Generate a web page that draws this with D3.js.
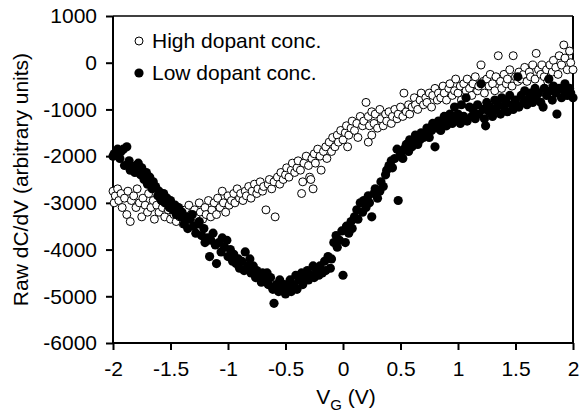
<!DOCTYPE html>
<html>
<head>
<meta charset="utf-8">
<script src="https://cdn.jsdelivr.net/npm/d3@7"></script>
<style>
  body { margin: 0; background: #fff; }
  svg text { font-family: "Liberation Sans", Arial, sans-serif; fill: #000; }
</style>
</head>
<body>
<div id="chart"></div>
<script>
// V_G (V), raw dC/dV
const highDopant = [
  [-2.00,-2750],[-1.99,-3000],[-1.98,-2850],[-1.96,-2700],[-1.95,-2950],[-1.93,-2800],[-1.92,-3100],[-1.90,-2900],
  [-1.88,-3250],[-1.87,-2750],[-1.85,-3400],[-1.84,-2950],[-1.82,-2850],[-1.80,-3100],[-1.79,-2700],[-1.77,-3000],
  [-1.75,-3300],[-1.74,-2900],[-1.72,-3050],[-1.70,-3200],[-1.69,-2800],[-1.67,-3100],[-1.65,-2950],[-1.64,-3350],
  [-1.62,-3050],[-1.60,-3200],[-1.59,-2900],[-1.57,-3100],[-1.55,-3300],[-1.54,-3000],[-1.52,-3150],[-1.50,-3350],
  [-1.49,-3050],[-1.47,-3250],[-1.45,-3400],[-1.44,-3100],[-1.42,-3300],[-1.40,-3200],[-1.39,-3450],[-1.37,-3150],
  [-1.35,-3350],[-1.34,-3050],[-1.32,-3250],[-1.30,-3400],[-1.29,-3150],[-1.27,-3300],[-1.25,-3000],[-1.24,-3200],
  [-1.22,-3350],[-1.20,-3100],[-1.19,-3250],[-1.17,-2950],[-1.15,-3300],[-1.14,-3150],[-1.12,-3000],[-1.10,-3250],
  [-1.09,-2900],[-1.07,-3100],[-1.05,-2750],[-1.04,-3000],[-1.02,-3200],[-1.00,-2850],[-0.99,-3050],[-0.97,-2950],
  [-0.95,-2800],[-0.94,-3000],[-0.92,-2700],[-0.90,-2900],[-0.89,-2800],[-0.87,-2950],[-0.85,-2750],[-0.84,-2850],
  [-0.82,-2650],[-0.80,-2900],[-0.79,-2750],[-0.77,-2600],[-0.75,-2800],[-0.74,-2700],[-0.72,-2550],[-0.70,-2750],
  [-0.69,-2650],[-0.67,-3150],[-0.65,-2600],[-0.64,-2500],[-0.62,-2700],[-0.60,-2550],[-0.59,-3300],[-0.57,-2450],
  [-0.55,-2600],[-0.54,-2350],[-0.52,-2500],[-0.50,-2400],[-0.49,-2250],[-0.47,-2450],[-0.45,-2300],[-0.44,-2150],
  [-0.42,-2350],[-0.40,-2250],[-0.39,-2100],[-0.37,-2300],[-0.36,-2800],[-0.35,-2550],[-0.34,-2150],[-0.32,-2000],
  [-0.30,-2200],[-0.29,-2450],[-0.28,-2500],[-0.27,-2050],[-0.26,-2700],[-0.25,-1950],[-0.24,-2150],[-0.22,-1850],
  [-0.20,-2000],[-0.19,-2300],[-0.17,-1900],[-0.15,-1800],[-0.14,-2050],[-0.12,-1700],[-0.10,-1900],[-0.09,-1600],
  [-0.07,-1800],[-0.05,-1550],[-0.04,-1700],[-0.02,-1450],[0.00,-1650],[0.02,-1500],[0.03,-1350],[0.04,-1800],
  [0.05,-1550],[0.07,-1400],[0.08,-1250],[0.10,-1450],[0.12,-1300],[0.13,-1600],[0.15,-1150],[0.17,-1350],
  [0.18,-1250],[0.20,-850],[0.22,-1150],[0.22,-1700],[0.23,-1350],[0.25,-1050],[0.25,-1550],[0.27,-1300],
  [0.28,-1100],[0.30,-1400],[0.32,-1000],[0.33,-1200],[0.35,-1350],[0.37,-1100],[0.38,-1250],[0.40,-1050],
  [0.42,-1300],[0.43,-1150],[0.45,-1000],[0.47,-1200],[0.48,-1100],[0.50,-950],[0.52,-1150],[0.53,-650],
  [0.55,-1050],[0.57,-900],[0.58,-1100],[0.60,-950],[0.62,-750],[0.63,-900],[0.65,-1000],[0.67,-800],
  [0.68,-650],[0.70,-900],[0.72,-750],[0.73,-850],[0.75,-650],[0.77,-950],[0.78,-700],[0.80,-550],
  [0.82,-800],[0.83,-650],[0.85,-750],[0.87,-500],[0.88,-650],[0.90,-800],[0.92,-550],[0.93,-450],
  [0.95,-700],[0.97,-600],[0.98,-350],[1.00,-650],[1.02,-500],[1.03,-800],[1.05,-450],[1.07,-600],
  [1.08,-350],[1.10,-550],[1.12,-700],[1.13,-450],[1.15,-300],[1.17,-600],[1.18,-500],[1.20,-50],
  [1.22,-400],[1.23,-650],[1.25,-350],[1.27,-500],[1.28,-250],[1.30,-450],[1.32,-600],[1.33,-300],
  [1.35,150],[1.37,-400],[1.38,-550],[1.40,-250],[1.42,-450],[1.43,-350],[1.45,-150],[1.47,-500],
  [1.48,150],[1.50,-300],[1.52,-400],[1.53,-200],[1.55,-350],[1.57,-250],[1.58,-100],[1.60,-400],
  [1.62,-200],[1.63,-300],[1.65,-50],[1.67,-350],[1.68,200],[1.70,-150],[1.72,-250],[1.73,-50],
  [1.75,-300],[1.77,-150],[1.78,-400],[1.80,-50],[1.82,-200],[1.83,50],[1.85,-100],[1.87,-250],
  [1.88,150],[1.90,-50],[1.92,380],[1.93,100],[1.95,-150],[1.97,250],[1.98,0],[2.00,-150]
];

const lowDopant = [
  [-2.00,-2000],[-1.99,-1950],[-1.97,-1900],[-1.96,-1850],[-1.94,-2050],[-1.93,-1900],[-1.91,-1850],[-1.90,-2200],
  [-1.88,-1800],[-1.86,-2100],[-1.85,-2300],[-1.83,-2250],[-1.81,-2350],[-1.80,-2200],[-1.78,-2150],[-1.76,-2400],
  [-1.75,-2250],[-1.73,-2500],[-1.71,-2350],[-1.70,-2600],[-1.68,-2450],[-1.66,-2700],[-1.65,-2550],[-1.63,-2650],
  [-1.61,-2850],[-1.60,-2750],[-1.58,-2950],[-1.56,-2800],[-1.55,-3000],[-1.53,-2900],[-1.51,-3100],[-1.50,-2950],
  [-1.48,-3150],[-1.46,-3050],[-1.45,-3250],[-1.43,-3100],[-1.41,-3300],[-1.40,-3200],[-1.38,-3450],[-1.36,-3300],
  [-1.35,-3550],[-1.33,-3350],[-1.31,-3250],[-1.30,-3500],[-1.28,-3650],[-1.26,-3450],[-1.25,-3400],[-1.23,-3700],
  [-1.21,-3550],[-1.20,-3850],[-1.18,-3750],[-1.16,-4150],[-1.15,-3800],[-1.13,-3650],[-1.11,-3900],[-1.10,-4300],
  [-1.08,-3850],[-1.06,-4050],[-1.05,-3750],[-1.03,-3950],[-1.01,-3800],[-1.00,-4150],[-0.98,-4000],[-0.96,-4250],
  [-0.95,-4100],[-0.93,-4300],[-0.91,-4200],[-0.90,-4400],[-0.88,-4250],[-0.86,-4450],[-0.85,-4050],[-0.83,-4350],
  [-0.81,-4200],[-0.80,-4500],[-0.78,-4350],[-0.76,-4600],[-0.75,-4450],[-0.73,-4550],[-0.71,-4700],[-0.70,-4500],
  [-0.68,-4650],[-0.66,-4500],[-0.65,-4750],[-0.63,-4600],[-0.61,-4850],[-0.60,-5150],[-0.58,-4750],[-0.56,-4900],
  [-0.55,-4650],[-0.53,-4850],[-0.51,-4750],[-0.50,-4950],[-0.48,-4800],[-0.46,-4650],[-0.45,-4900],[-0.43,-4750],
  [-0.41,-4550],[-0.40,-4850],[-0.38,-4650],[-0.36,-4500],[-0.35,-4750],[-0.33,-4600],[-0.31,-4450],[-0.30,-4650],
  [-0.28,-4550],[-0.26,-4350],[-0.25,-4600],[-0.23,-4450],[-0.21,-4550],[-0.20,-4350],[-0.18,-4500],[-0.16,-4250],
  [-0.15,-4450],[-0.13,-4150],[-0.11,-4400],[-0.10,-4200],[-0.08,-3850],[-0.06,-3700],[-0.05,-3950],[-0.03,-3800],
  [-0.01,-3600],[0.00,-4550],[0.02,-3850],[0.03,-3500],[0.05,-3650],[0.07,-3400],[0.08,-3550],[0.10,-3300],
  [0.12,-3150],[0.13,-3350],[0.15,-3000],[0.17,-3200],[0.18,-2950],[0.20,-3100],[0.22,-2850],[0.23,-3000],
  [0.25,-3300],[0.27,-2800],[0.28,-2700],[0.30,-2900],[0.32,-2750],[0.33,-2550],[0.35,-2650],[0.37,-2400],
  [0.38,-2300],[0.40,-2200],[0.42,-2100],[0.43,-2250],[0.45,-2050],[0.47,-1850],[0.48,-2950],[0.50,-1950],
  [0.52,-2050],[0.53,-1850],[0.55,-1750],[0.57,-1900],[0.58,-1650],[0.60,-1800],[0.62,-1700],[0.63,-1550],
  [0.65,-1750],[0.67,-1650],[0.68,-1500],[0.70,-1600],[0.72,-1550],[0.73,-1400],[0.75,-1600],[0.77,-1450],
  [0.78,-1300],[0.80,-1800],[0.82,-1400],[0.83,-1250],[0.85,-1450],[0.87,-1300],[0.88,-1150],[0.90,-1350],
  [0.92,-1200],[0.93,-1100],[0.95,-1300],[0.97,-950],[0.98,-1200],[1.00,-1100],[1.02,-1300],[1.03,-900],
  [1.05,-1150],[1.07,-750],[1.08,-1250],[1.10,-950],[1.12,-1150],[1.13,-1000],[1.15,-1200],[1.17,-900],
  [1.18,-1100],[1.20,-450],[1.22,-1000],[1.23,-1200],[1.24,-1350],[1.25,-850],[1.27,-1050],[1.28,-950],
  [1.30,-1150],[1.32,-800],[1.33,-1000],[1.35,-900],[1.37,-1100],[1.38,-750],[1.40,-950],[1.42,-850],
  [1.43,-1050],[1.45,-700],[1.47,-900],[1.48,-1000],[1.50,-800],[1.52,-300],[1.53,-950],[1.55,-700],
  [1.57,-850],[1.58,-600],[1.60,-900],[1.62,-750],[1.63,-650],[1.65,-850],[1.67,-550],[1.68,-750],
  [1.70,-650],[1.72,-850],[1.74,-950],[1.75,-550],[1.77,-700],[1.79,-350],[1.80,-600],[1.82,-800],
  [1.83,-500],[1.85,-650],[1.86,-1100],[1.88,-550],[1.90,-750],[1.92,-600],[1.93,-450],[1.95,-700],
  [1.97,-550],[1.98,-650],[2.00,-750]
];

const xTicks = [-2, -1.5, -1, -0.5, 0, 0.5, 1, 1.5, 2];
const yTicks = [1000, 0, -1000, -2000, -3000, -4000, -5000, -6000];
const seriesNames = ["High dopant conc.", "Low dopant conc."];

const fullWidth = 580, fullHeight = 412;
const margin = { top: 16, right: 7, bottom: 69, left: 113 };
const width = fullWidth - margin.left - margin.right;
const height = fullHeight - margin.top - margin.bottom;

const svg = d3.select("#chart")
  .append("svg")
  .attr("width", fullWidth)
  .attr("height", fullHeight)
  .append("g")
  .attr("transform", `translate(${margin.left},${margin.top})`);

const x = d3.scaleLinear().domain([-2, 2]).range([0, width]);
const y = d3.scaleLinear().domain([-6000, 1000]).range([height, 0]);

// plain hyphen minus like the original
const fmt = d => String(d);

// frame: top and right
svg.append("line")
  .attr("x1", 0).attr("x2", width).attr("y1", 0).attr("y2", 0)
  .attr("stroke", "#000").attr("stroke-width", 1.5);
svg.append("line")
  .attr("x1", width).attr("x2", width).attr("y1", 0).attr("y2", height)
  .attr("stroke", "#000").attr("stroke-width", 2);

const xAxis = svg.append("g")
  .attr("transform", `translate(0,${height})`)
  .call(d3.axisBottom(x).tickValues(xTicks).tickSize(7).tickPadding(11).tickFormat(fmt));

const yAxis = svg.append("g")
  .call(d3.axisLeft(y).tickValues(yTicks).tickSize(7).tickPadding(9).tickFormat(fmt));

xAxis.select(".domain").attr("stroke-width", 2).attr("d", `M0,0H${width}`);
yAxis.select(".domain").attr("stroke-width", 2).attr("d", `M0,0V${height}`);
[xAxis, yAxis].forEach(g => {
  g.selectAll(".tick line").attr("stroke-width", 2);
  g.selectAll("text").style("font-size", "21px").style("font-family", '"Liberation Sans", Arial, sans-serif');
});
xAxis.selectAll("text").attr("dy", "0.71em");

svg.append("g")
  .selectAll("circle")
  .data(highDopant)
  .enter()
  .append("circle")
  .attr("cx", d => x(d[0]))
  .attr("cy", d => y(d[1]))
  .attr("r", 4)
  .attr("fill", "#fff")
  .attr("stroke", "#000")
  .attr("stroke-width", 1);

svg.append("g")
  .selectAll("circle")
  .data(lowDopant)
  .enter()
  .append("circle")
  .attr("cx", d => x(d[0]))
  .attr("cy", d => y(d[1]))
  .attr("r", 4.6)
  .attr("fill", "#000");

// legend
const legend = svg.append("g").attr("transform", "translate(26,25)");
legend.append("circle").attr("cx", 0).attr("cy", 0).attr("r", 4)
  .attr("fill", "#fff").attr("stroke", "#000");
legend.append("text").attr("x", 13).attr("y", 7).style("font-size", "21px").text(seriesNames[0]);
legend.append("circle").attr("cx", 0).attr("cy", 32).attr("r", 4.6).attr("fill", "#000");
legend.append("text").attr("x", 13).attr("y", 39).style("font-size", "21px").text(seriesNames[1]);

// axis labels
const xLabel = svg.append("text")
  .attr("x", width / 2 + 3)
  .attr("y", height + 61)
  .style("text-anchor", "middle")
  .style("font-size", "21px");
xLabel.append("tspan").text("V");
xLabel.append("tspan").attr("dy", 6).style("font-size", "15px").text("G");
xLabel.append("tspan").attr("dy", -6).text(" (V)");

svg.append("text")
  .attr("transform", "rotate(-90)")
  .attr("x", -height / 2)
  .attr("y", -margin.left + 28)
  .style("text-anchor", "middle")
  .style("font-size", "21px")
  .text("Raw dC/dV (arbitrary units)");
</script>
</body>
</html>
